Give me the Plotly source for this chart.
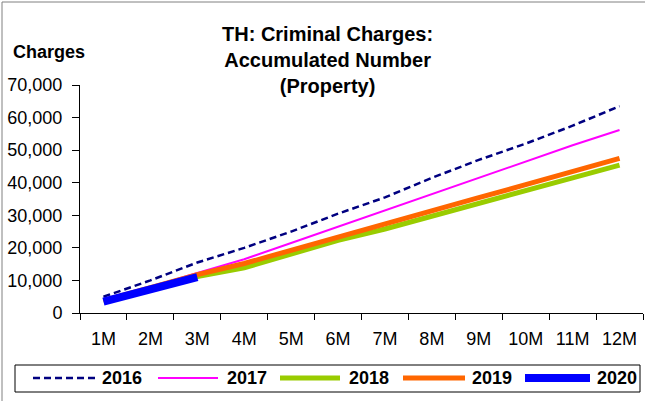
import plotly.graph_objects as go

months = ["1M", "2M", "3M", "4M", "5M", "6M", "7M", "8M", "9M", "10M", "11M", "12M"]
y2016 = [5000, 10000, 15500, 20000, 25000, 30500, 35500, 41500, 47000, 52000, 57500, 63500]
y2017 = [4000, 8000, 12300, 16500, 21500, 26500, 31500, 36500, 41500, 46500, 51500, 56200]
y2018 = [3700, 7400, 11200, 13900, 18200, 22300, 25800, 29800, 33700, 37600, 41500, 45400]
y2019 = [3800, 7700, 11800, 15200, 19300, 23300, 27600, 31500, 35400, 39400, 43300, 47500]
y2020 = [3500, 7200, 11000]
series_names = ["2016", "2017", "2018", "2019", "2020"]
y_ticks = [0, 10000, 20000, 30000, 40000, 50000, 60000, 70000]
y_tick_text = ["0", "10,000", "20,000", "30,000", "40,000", "50,000", "60,000", "70,000"]

FONT = "Liberation Sans, Arial, sans-serif"

styles = [
    dict(color="#000080", width=2.5, dash="7px,4px"),
    dict(color="#FF00FF", width=2),
    dict(color="#99CC00", width=5),
    dict(color="#FF6600", width=5),
    dict(color="#0000FF", width=8),
]
xs = [months, months, months, months, months[:3]]
ys = [y2016, y2017, y2018, y2019, y2020]

fig = go.Figure()
for name, x, y, st in zip(series_names, xs, ys, styles):
    fig.add_trace(go.Scatter(x=x, y=y, name=name, mode="lines", line=st,
                             showlegend=False))

# plot area in pixels: x 80..643, y 85..313
def px(xp):
    return (xp - 80) / 563

def py(yp):
    return (313 - yp) / 228

fig.update_layout(
    width=645, height=401,
    margin=dict(l=80, r=2, t=85, b=88),
    paper_bgcolor="white", plot_bgcolor="white",
    font=dict(family=FONT, size=18, color="black"),
    showlegend=False,
    xaxis=dict(type="category", range=[-0.5, 11.5], showline=True, linecolor="black",
               linewidth=1, ticks="outside", ticklen=6, tickcolor="black",
               tickson="boundaries", showgrid=False, zeroline=False, fixedrange=True,
               ticklabelstandoff=9),
    yaxis=dict(range=[0, 70000], tickvals=y_ticks, ticktext=y_tick_text,
               showline=True, linecolor="black", linewidth=1, ticks="outside",
               ticklen=7, tickcolor="black", showgrid=False, zeroline=False,
               fixedrange=True, ticklabelstandoff=6),
)

fig.add_annotation(text="<b>TH: Criminal Charges:<br>Accumulated Number<br>(Property)</b>",
                   xref="paper", yref="paper", x=px(327), y=py(60), xanchor="center",
                   yanchor="middle", showarrow=False, align="center",
                   font=dict(size=20, family=FONT))
fig.add_annotation(text="<b>Charges</b>", xref="paper", yref="paper",
                   x=px(11), y=py(52), xanchor="left", yanchor="middle",
                   showarrow=False, font=dict(size=18, family=FONT))

# outer chart frame
fig.add_shape(type="rect", xref="paper", yref="paper",
              x0=px(2), x1=px(660), y0=py(420), y1=py(2),
              line=dict(color="#808080", width=1), fillcolor="rgba(0,0,0,0)")

# legend box with long line samples
fig.add_shape(type="rect", xref="paper", yref="paper",
              x0=px(15), x1=px(640), y0=py(392), y1=py(365),
              line=dict(color="black", width=1), fillcolor="white")
line_starts = [33, 158, 280, 403, 525]
line_ends = [95, 218, 340, 465, 590]
text_starts = [100, 225, 347, 470, 595]
for name, st, a, b, t in zip(series_names, styles, line_starts, line_ends, text_starts):
    fig.add_shape(type="line", xref="paper", yref="paper",
                  x0=px(a), x1=px(b), y0=py(378), y1=py(378), line=st)
    fig.add_annotation(text="<b>" + name + "</b>", xref="paper", yref="paper",
                       x=px(t), y=py(378), xanchor="left", yanchor="middle",
                       showarrow=False, font=dict(size=18, family=FONT))

fig.write_html("out.html", config={"displayModeBar": False},
               post_script="document.body.style.margin='0';document.body.style.overflow='hidden';")
